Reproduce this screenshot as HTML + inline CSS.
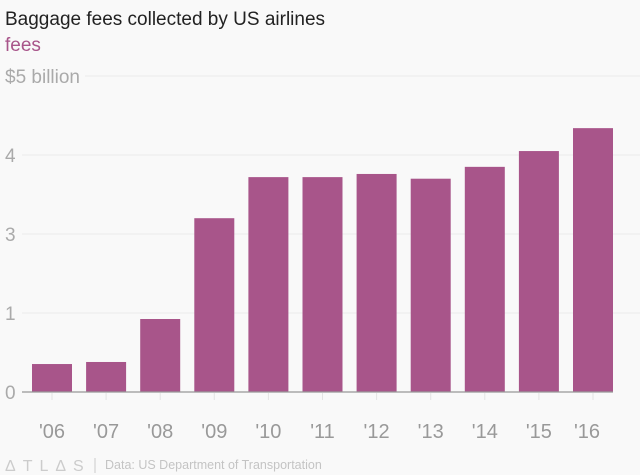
<!DOCTYPE html>
<html><head><meta charset="utf-8"><style>
body{margin:0;background:#f9f9f9;width:640px;height:475px;overflow:hidden;font-family:"Liberation Sans",sans-serif}
svg{display:block}
</style></head><body>
<svg width="640" height="475" id="c">
<rect width="640" height="475" fill="#f9f9f9"/>
<text x="5" y="25" font-size="19" fill="#222">Baggage fees collected by US airlines</text>
<text x="5" y="51" font-size="19" fill="#a8558a">fees</text>
<g id="grid"></g><g id="bars"></g><g id="xl"></g>
<line x1="22" x2="613" y1="392" y2="392" stroke="#999" stroke-width="1.2"/>
<text x="5" y="471" font-size="16" fill="#ccc" letter-spacing="7">ΔTLΔS</text>
<line x1="95" x2="95" y1="458" y2="473" stroke="#ccc"/>
<text x="105" y="469" font-size="12.5" fill="#c4c4c4">Data: US Department of Transportation</text>
</svg>
<script>
const categories=["'06","'07","'08","'09","'10","'11","'12","'13","'14","'15","'16"];
const values=[0.354,0.38,0.924,2.2,2.72,2.72,2.76,2.70,2.85,3.05,3.34];
const tickValues=[0,1,2,3,4];
const tickLabels=["0","1","3","4","$5 billion"];
const NS="http://www.w3.org/2000/svg";
function y(v){return 392-v*79;}
function xc(i){return 52+i*54.1;}
function mk(t,a,p){const e=document.createElementNS(NS,t);for(const k in a)e.setAttribute(k,a[k]);p.appendChild(e);return e;}
const g=document.getElementById('grid'),b=document.getElementById('bars'),xl=document.getElementById('xl');
tickValues.forEach((v,i)=>{
 const lab=tickLabels[i];
 const w=lab.length>2?85:22;
 if(v>0){const l=mk('line',{x1:w,x2:640,y1:y(v),y2:y(v),stroke:'#ececec'},g);
 
 }
 const t=mk('text',{x:5,y:y(v)+7,'font-size':19,fill:'#aaa'},g);t.textContent=lab;
 
 
});
categories.forEach((c,i)=>{
 const r=mk('rect',{x:xc(i)-20,y:y(values[i]),width:40,height:392-y(values[i]),fill:'#a8558a'},b);
 
 
 const tk=mk('line',{x1:xc(i),x2:xc(i),y1:393,y2:400,stroke:'#e4e4e4'},xl);
 
 
 const lx=i==categories.length-1?xc(i)-6:xc(i);
 const t=mk('text',{x:lx,y:438,'font-size':20,fill:'#999','text-anchor':'middle'},xl);t.textContent=c;
 
 
});
</script>
</body></html>
